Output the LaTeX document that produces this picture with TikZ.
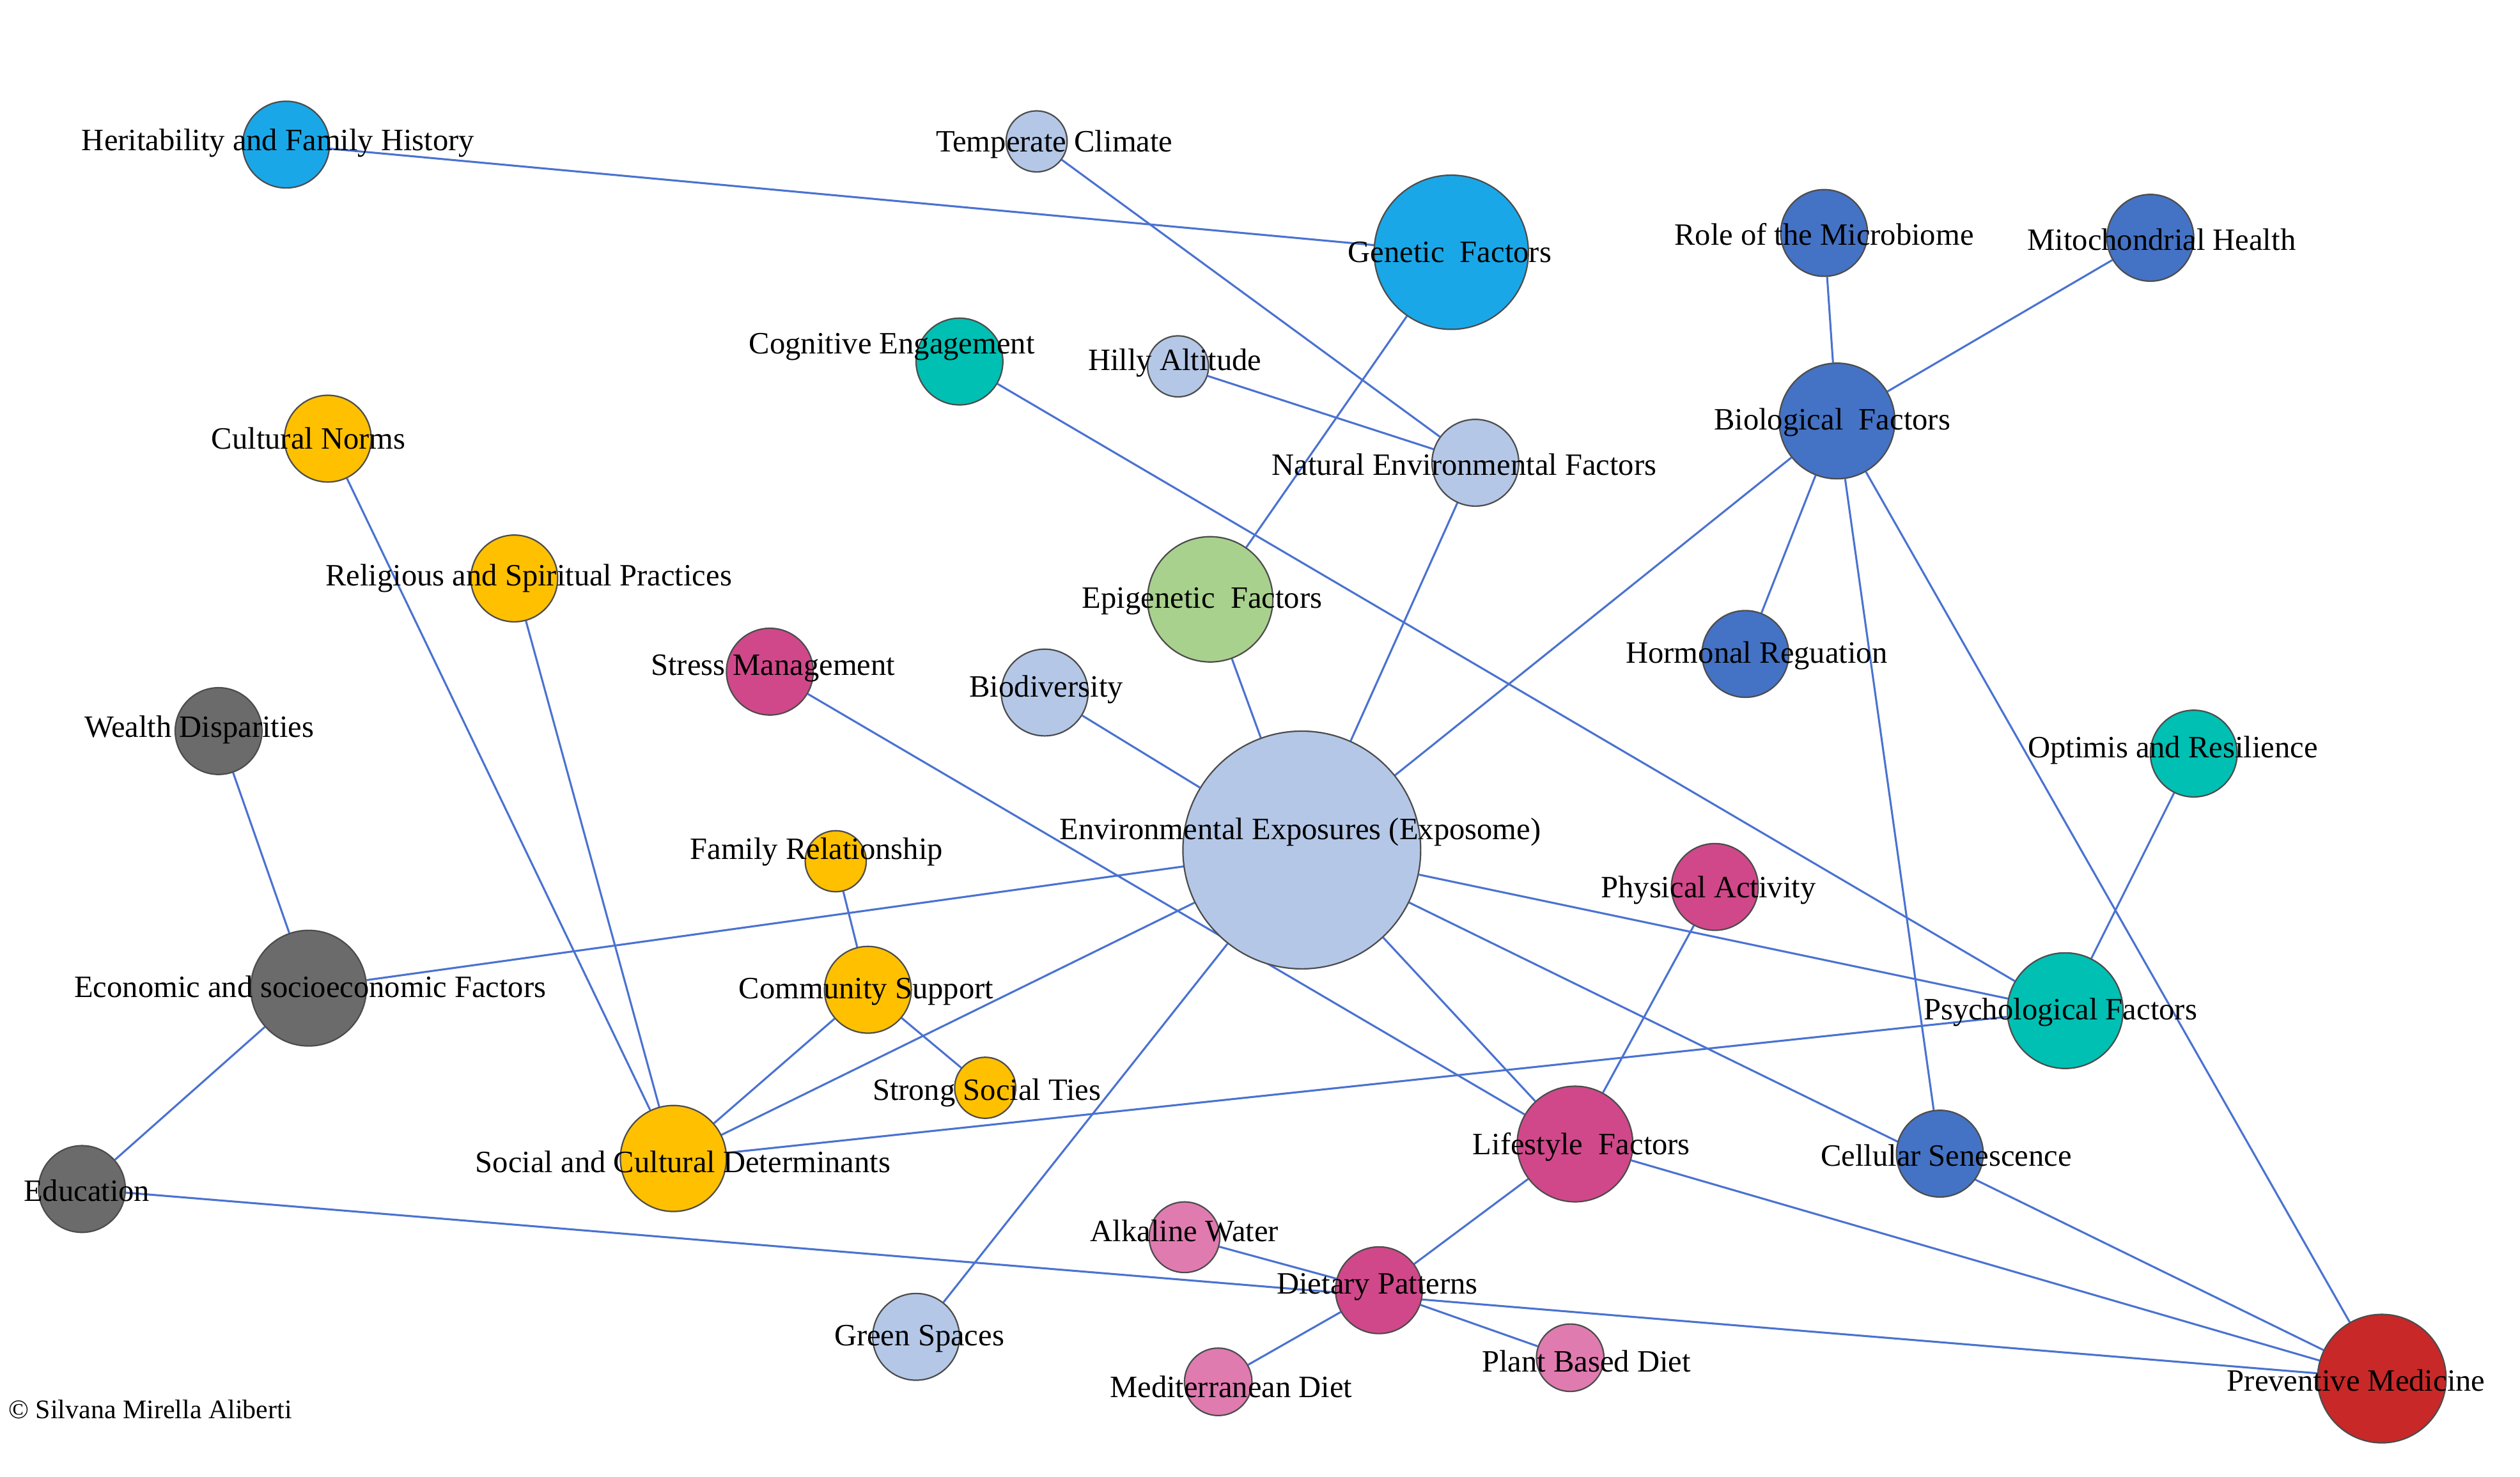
\documentclass[tikz,border=0pt]{standalone}
\usepackage{fontspec}
\setmainfont{Liberation Serif}
\usetikzlibrary{backgrounds}
\definecolor{cy}{HTML}{1AA7E8}
\definecolor{lb}{HTML}{B4C7E7}
\definecolor{bl}{HTML}{4472C4}
\definecolor{tl}{HTML}{00BFB3}
\definecolor{gd}{HTML}{FFC000}
\definecolor{gr}{HTML}{A9D18E}
\definecolor{mg}{HTML}{D0488A}
\definecolor{pk}{HTML}{E07BB0}
\definecolor{gy}{HTML}{6B6B6B}
\definecolor{rd}{HTML}{C82828}
\definecolor{ed}{HTML}{4A72D0}
\begin{document}
\begin{tikzpicture}[x=0.02cm,y=-0.02cm,
 n/.style={circle,draw=black!70,line width=0.5pt,inner sep=0pt,fill=#1},
 t/.style={font=\fontsize{11pt}{13pt}\selectfont,inner sep=0pt},
 e/.style={draw=ed,line width=0.7pt}]
\useasboundingbox (0,0) rectangle (1568,919);
\newcommand\nd[6]{\node[n=#4,minimum size=#3*0.04cm] (#1) at (#2) {};\node[t] at (#5) {#6};}
\nd{her}{178,90}{27}{cy}{173,89}{Heritability and Family History}
\nd{tem}{645,88}{19}{lb}{656,90}{Temperate Climate}
\nd{gen}{903,157}{48}{cy}{902,157}{Genetic\ \ Factors}
\nd{mic}{1135,145}{27}{bl}{1135,146}{Role of the Microbiome}
\nd{mit}{1338,148}{27}{bl}{1345,149}{Mitochondrial Health}
\nd{cog}{597,225}{27}{tl}{555,216}{Cognitive Engagement}
\nd{hil}{733,228}{19}{lb}{731,226}{Hilly Altitude}
\nd{cul}{204,273}{27}{gd}{192,273}{Cultural Norms}
\nd{bio}{1143,262}{36}{bl}{1140,263}{Biological\ \ Factors}
\nd{nat}{918,288}{27}{lb}{911,289}{Natural Environmental Factors}
\nd{rel}{320,360}{27}{gd}{329,360}{Religious and Spiritual Practices}
\nd{epi}{753,373}{39}{gr}{748,374}{Epigenetic\ \ Factors}
\nd{str}{479,418}{27}{mg}{481,416}{Stress Management}
\nd{hor}{1086,407}{27}{bl}{1093,408}{Hormonal Reguation}
\nd{bdv}{650,431}{27}{lb}{651,429}{Biodiversity}
\nd{wea}{136,455}{27}{gy}{124,454}{Wealth Disparities}
\nd{opt}{1365,469}{27}{tl}{1352,467}{Optimis and Resilience}
\nd{env}{810,529}{74}{lb}{809,518}{Environmental Exposures (Exposome)}
\nd{fam}{520,536}{19}{gd}{508,530}{Family Relationship}
\nd{phy}{1067,552}{27}{mg}{1063,554}{Physical Activity}
\nd{eco}{192,615}{36}{gy}{193,614}{Economic and socioeconomic Factors}
\nd{com}{540,616}{27}{gd}{539,617}{Community Support}
\nd{psy}{1285,629}{36}{tl}{1282,630}{Psychological Factors}
\nd{sst}{613,677}{19}{gd}{614,680}{Strong Social Ties}
\nd{soc}{419,721}{33}{gd}{425,723}{Social and Cultural Determinants}
\nd{lif}{980,712}{36}{mg}{984,714}{Lifestyle\ \ Factors}
\nd{cel}{1207,718}{27}{bl}{1211,719}{Cellular Senescence}
\nd{edu}{51,740}{27}{gy}{54,741}{Education}
\nd{alk}{737,770}{22}{pk}{737,766}{Alkaline Water}
\nd{die}{858,803}{27}{mg}{857,801}{Dietary Patterns}
\nd{grn}{570,832}{27}{lb}{572,833}{Green Spaces}
\nd{pla}{977,845}{21}{pk}{987,847}{Plant Based Diet}
\nd{med}{758,860}{21}{pk}{766,863}{Mediterranean Diet}
\nd{pre}{1482,858}{40}{rd}{1466,859}{Preventive Medicine}
\node[t,font=\fontsize{9.5pt}{11pt}\selectfont,anchor=west] (cp) at (5,877) {\textcopyright\ Silvana Mirella Aliberti};
\begin{scope}[on background layer]
\foreach \a/\b in {her/gen,tem/nat,gen/epi,mic/bio,mit/bio,cog/psy,hil/nat,cul/soc,rel/soc,bio/env,bio/hor,bio/cel,bio/pre,nat/env,epi/env,str/lif,bdv/env,wea/eco,opt/psy,env/eco,env/psy,env/soc,env/lif,env/pre,env/grn,fam/com,com/soc,com/sst,phy/lif,psy/soc,eco/edu,edu/pre,lif/die,lif/pre,alk/die,die/pla,die/med}
 \draw[e] (\a) -- (\b);
\end{scope}
\end{tikzpicture}
\end{document}
